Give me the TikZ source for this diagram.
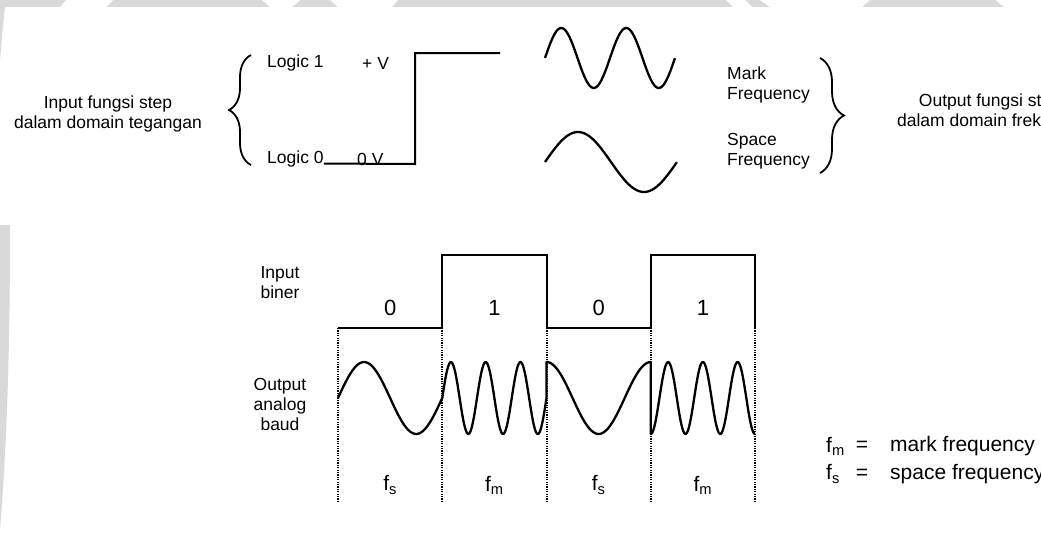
\documentclass[tikz,border=0pt]{standalone}
\usepackage{fontspec}
\setmainfont{Liberation Sans}
\usetikzlibrary{decorations.pathreplacing, positioning}

\begin{document}
\begin{tikzpicture}[x=1pt, y=-1pt,
  txt/.style={font=\fontsize{17.5}{20}\selectfont, align=center, inner sep=0pt},
  side/.style={font=\fontsize{17.5}{20}\selectfont, align=left, inner sep=0pt, anchor=west},
  bit/.style={font=\fontsize{22}{24}\selectfont, inner sep=0pt},
  freq/.style={font=\fontsize{21}{24}\selectfont, inner sep=0pt},
  wave/.style={line width=2.3pt, line join=round},
  level/.style={line width=2pt},
  divider/.style={line width=2pt, dash pattern=on 1.2pt off 1.2pt},
  curly/.style={line width=1.8pt, decorate, decoration={brace, amplitude=#1}},
  curly/.default=22,
  wmark/.style={black!15}
]
\useasboundingbox (0,0) rectangle (1041,544);
\clip (0,0) rectangle (1041,544);
\fill[wmark] (0,0) rectangle (1041,7);
\fill[white] (66,0) -- (113,0) -- (106,7) -- (60,7) -- cycle;
\fill[white] (262,0) -- (300,0) -- (292,7) -- (270,7) -- cycle;
\fill[white] (330,0) -- (398,0) -- (392,7) -- (338,7) -- cycle;
\fill[white] (726,0) -- (745,0) -- (752,7) -- (733,7) -- cycle;
\fill[white] (760,0) -- (870,0) -- (862,7) -- (770,7) -- cycle;
\fill[white] (996,0) -- (1041,0) -- (1041,7) -- (1004,7) -- cycle;
\fill[wmark] (0,0) -- (6,0) .. controls (3,20) and (2,40) .. (0,60) -- cycle;
\fill[wmark] (0,225) -- (10,225) .. controls (10,330) and (8,430) .. (0,530) -- cycle;

\node[txt] (inStep) at (108,114) {Input fungsi step\\dalam domain tegangan};
\node[side] (lg1) at (267,63) {Logic 1};
\node[side] (plusV) at (362,63) {+ V};
\node[side] (lg0) at (267,159) {Logic 0};
\node[side] (zeroV) at (357,159) {0 V};
\draw[curly] (251,165) -- (251,55);
\coordinate (stepLow) at (415,164);
\coordinate (stepHigh) at (415,53);
\coordinate (stepEnd) at (500,53);
\draw[level] (lg0.base east) -- (stepLow) -- (stepHigh) -- (stepEnd);

\draw[wave] plot[domain=0:2, samples=90, smooth] ({545+65*\x}, {58-30*sin(360*\x)});
\draw[wave] plot[domain=0:1, samples=60, smooth] ({545+132*\x}, {162-30*sin(360*\x)});
\node[side] (markF) at (727,85) {Mark\\Frequency};
\node[side] (spaceF) at (727,151) {Space\\Frequency};
\draw[curly=24] (820,58) -- (820,173);
\node[txt] (outStep) at (990,110) {Output fungsi step\\dalam domain frekuensi};

\node[txt] (inBin) at (280,283) {Input\\biner};
\node[txt] (outBaud) at (280,404) {Output\\analog\\baud};
\foreach \i in {0,...,4} {
  \coordinate (b\i) at ({338+104.25*\i},328);
  \coordinate (t\i) at ({338+104.25*\i},255);
  \coordinate (e\i) at ({338+104.25*\i},503);
  \draw[divider] (b\i) -- (e\i);
}
\draw[level] (b0) -- (b1) -- (t1) -- (t2) -- (b2) -- (b3) -- (t3) -- (t4) -- (b4);
\foreach \bv/\fv [count=\k] in {0/s,1/m,0/s,1/m} {
  \node[bit] (bit\k) at ({285.875+104.25*\k},308) {\bv};
  \node[freq] (fq\k) at ({285.875+104.25*\k},485) {f\textsubscript{\fv}};
}
\draw[wave] plot[domain=0:1, samples=50, smooth] ({338+104.25*\x}, {398-36*sin(360*\x)})
  -- plot[domain=0:3, samples=120, smooth] ({442.25+34.75*\x}, {398-36*sin(360*\x)})
  -- plot[domain=0:1, samples=50, smooth] ({546.5+104.25*\x}, {398-36*cos(360*\x)})
  -- plot[domain=0:3, samples=120, smooth] ({650.75+34.75*\x}, {398+36*cos(360*\x)});

\node[freq, anchor=west] (fmKey) at (826,446) {f\textsubscript{m}};
\node[freq, anchor=west] (fsKey) at (826,474) {f\textsubscript{s}};
\node[freq] (eqM) at (862,446) {=};
\node[freq] (eqS) at (862,474) {=};
\node[freq, anchor=west] (fmText) at (890,446) {mark frequency};
\node[freq, anchor=west] (fsText) at (890,474) {space frequency};
\end{tikzpicture}
\end{document}
